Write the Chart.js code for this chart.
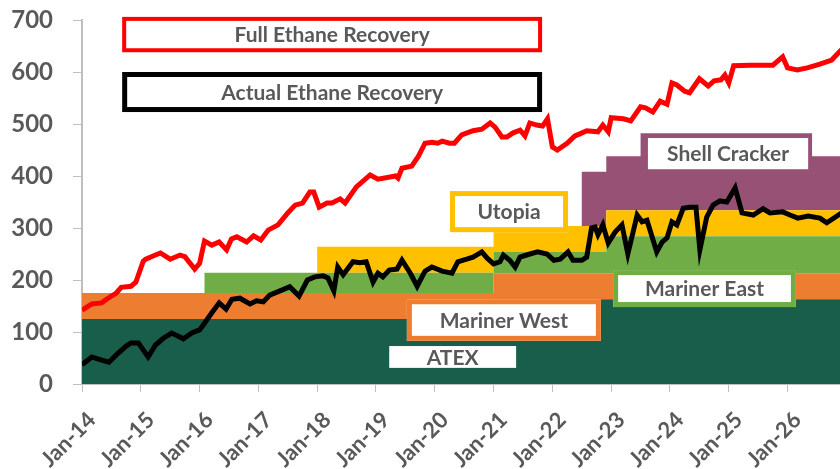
<!DOCTYPE html>
<html>
<head>
<meta charset="utf-8">
<script src="https://cdn.jsdelivr.net/npm/chart.js@4"></script>
<style>
  html, body { margin: 0; padding: 0; background: #fff; }
  #wrap { width: 840px; height: 469px; position: relative; }
</style>
</head>
<body>
<div id="wrap"><canvas id="ethaneChart"></canvas></div>
<script>
// x axis is months since Jan-14
const tickMonths = [0, 12, 24, 36, 48, 60, 72, 84, 96, 108, 120, 132, 144];
const tickLabels = ['Jan-14', 'Jan-15', 'Jan-16', 'Jan-17', 'Jan-18', 'Jan-19', 'Jan-20',
                    'Jan-21', 'Jan-22', 'Jan-23', 'Jan-24', 'Jan-25', 'Jan-26'];

// Full Ethane Recovery (red)
const fullMonths = [0, 2, 4, 5, 7, 8, 10, 11, 12.5, 13, 15, 16, 18, 20, 21, 23, 24, 25, 26.5, 28,
  29.5, 30.5, 31.6, 33.6, 35, 36.5, 38, 40, 42, 43.5, 45, 46.5, 47.3, 48.4, 50, 51, 52.7, 53.7, 56, 58.8,
  60.4, 64, 64.5, 65.3, 67.3, 68.6, 70, 71.4, 72.6, 73.5, 75, 76, 77.5, 79.8, 81.6, 83.3, 84.3, 85.7, 86.7, 88,
  89.4, 90.4, 91.4, 92.8, 94, 95, 96, 97, 99, 100.6, 101.6, 103, 105.3, 106.3, 107.4, 108, 110.5, 112, 114, 115,
  116.5, 118, 119.4, 120.4, 121.4, 123, 124, 126, 127.8, 129, 130.4, 131.2, 132, 133, 136.3, 141, 143, 144, 146, 148,
  150.6, 153, 155];
const fullValues = [142, 154, 156, 163, 175, 186, 188, 196, 236, 240, 248, 252, 240, 248, 245, 221, 232, 275, 267, 273,
  258, 279, 283, 273, 285, 277, 296, 306, 329, 344, 348, 369, 369, 340, 348, 348, 356, 348, 379, 402,
  394, 400, 396, 415, 419, 437, 463, 465, 463, 467, 463, 463, 479, 487, 490, 502, 494, 475, 475, 483,
  488, 477, 502, 498, 496, 510, 456, 450, 463, 477, 481, 487, 485, 498, 485, 512, 510, 506, 533, 531,
  523, 544, 538, 579, 575, 563, 560, 587, 573, 583, 585, 594, 579, 612, 613, 613, 629, 608, 604, 608,
  615, 623, 643];

// Actual Ethane Recovery (black)
const actualMonths = [0, 2, 4, 5.5, 7, 9, 10, 11.5, 13.5, 15, 16.6, 18.3, 20.7, 22.4, 24, 25, 26.5, 28, 29.4, 30.6,
  32.2, 34.3, 35.6, 37, 38.3, 40.4, 42.4, 44.3, 46, 47.5, 49.2, 50.2, 51.4, 52.2, 53.3, 55.3, 56.7, 58, 59.4, 60.4,
  61.4, 62.7, 64.3, 65.3, 67, 68.4, 70, 71.4, 73.5, 75.5, 76.7, 78.5, 79.8, 81.6, 82.7, 84, 85.3, 86, 87.3, 88.4,
  89.4, 91.4, 93, 94.9, 96.3, 97.6, 99.2, 100.2, 102, 103, 104, 104.7, 105.3, 106.3, 107.4, 108.8, 110.2, 111.4, 113.3, 114.3,
  115.3, 117.3, 118.4, 119.4, 120.4, 121.4, 122.7, 124, 125.3, 126.1, 127.5, 128.8, 130.2, 131.6, 133.3, 134.7, 137, 139, 140.4, 143,
  144.5, 146.1, 148.2, 150.6, 152, 155];
const actualValues = [37, 52, 46, 42, 56, 73, 79, 79, 52, 75, 88, 98, 87, 98, 104, 117, 137, 156, 144, 163,
  165, 154, 160, 158, 171, 179, 187, 169, 200, 206, 208, 204, 179, 225, 210, 235, 233, 235, 196, 213,
  206, 219, 221, 238, 213, 188, 217, 225, 217, 213, 235, 240, 244, 254, 242, 231, 235, 248, 238, 225,
  244, 250, 254, 250, 238, 240, 254, 238, 238, 244, 300, 302, 287, 306, 271, 292, 306, 250, 325, 312,
  315, 254, 273, 281, 312, 306, 338, 340, 340, 258, 321, 344, 352, 350, 377, 329, 325, 337, 329, 331,
  325, 319, 323, 319, 310, 329];

// pipeline / cracker capacity, step changes at these months
const bandStarts = [0, 25, 48, 84, 102, 107, 114, 149];
const bandEnd = 155;
const atex = [125, 125, 125, 163, 163, 163, 163, 163];
const marinerWest = [50, 50, 50, 50, 50, 50, 50, 50];
const marinerEast = [0, 39, 39, 41, 41, 71, 71, 71];
const utopia = [0, 0, 50, 50, 50, 50, 50, 50];
const shellCracker = [0, 0, 0, 0, 104, 104, 148, 104];

const bandLayers = [atex, marinerWest, marinerEast, utopia, shellCracker];
const bandColors = ['#185e4a', '#ed7d31', '#70ad47', '#ffc000', '#975174'];

const pts = (xs, ys) => xs.map((m, i) => ({ x: m, y: ys[i] }));

let running = bandStarts.map(() => 0);
const bandSets = bandLayers.map((layer, k) => {
  running = running.map((v, i) => v + layer[i]);
  const data = pts(bandStarts, running);
  data.push({ x: bandEnd, y: running[running.length - 1] });
  return {
    data: data,
    stepped: true,
    borderWidth: 0,
    pointRadius: 0,
    backgroundColor: bandColors[k],
    fill: k === 0 ? 'origin' : '-1'
  };
});

const boxLabels = [
  { text: 'Full Ethane Recovery', x0: 8.2, x1: 93.9, y0: 638, y1: 706, border: '#ff0000', lw: 4 },
  { text: 'Actual Ethane Recovery', x0: 8.2, x1: 93.9, y0: 523, y1: 600, border: '#000000', lw: 5 },
  { text: 'Shell Cracker', x0: 115.5, x1: 148.2, y0: 413, y1: 473, border: null, lw: 0 },
  { text: 'Utopia', x0: 75.1, x1: 99.2, y0: 292, y1: 371, border: '#ffc000', lw: 5 },
  { text: 'Mariner East', x0: 108.4, x1: 145.7, y0: 148, y1: 219, border: '#70ad47', lw: 5 },
  { text: 'Mariner West', x0: 66.3, x1: 105.9, y0: 83, y1: 163, border: '#ed7d31', lw: 5 },
  { text: 'ATEX', x0: 62.7, x1: 88.6, y0: 31, y1: 73, border: null, lw: 0 }
];

const labelBoxes = {
  id: 'labelBoxes',
  afterDatasetsDraw(chart) {
    const ctx = chart.ctx;
    const xs = chart.scales.x, ys = chart.scales.y;
    ctx.save();
    boxLabels.forEach(b => {
      const l = xs.getPixelForValue(b.x0), r = xs.getPixelForValue(b.x1);
      const t = ys.getPixelForValue(b.y1), btm = ys.getPixelForValue(b.y0);
      ctx.fillStyle = '#ffffff';
      ctx.fillRect(l, t, r - l, btm - t);
      if (b.lw) {
        ctx.lineWidth = b.lw;
        ctx.strokeStyle = b.border;
        ctx.strokeRect(l + b.lw / 2, t + b.lw / 2, r - l - b.lw, btm - t - b.lw);
      }
      ctx.fillStyle = '#595959';
      ctx.font = 'bold 21px Lato';
      ctx.textAlign = 'center';
      ctx.textBaseline = 'middle';
      ctx.fillText(b.text, (l + r) / 2, (t + btm) / 2 + 1);
    });
    ctx.restore();
  }
};

const canvasElement = document.getElementById('ethaneChart');

const chartCfg = {
  type: 'line',
  data: {
    datasets: [
      { data: pts(fullMonths, fullValues), borderColor: '#ff0000', borderWidth: 5, pointRadius: 0, fill: false, tension: 0 },
      { data: pts(actualMonths, actualValues), borderColor: '#000000', borderWidth: 5, pointRadius: 0, fill: false, tension: 0 },
      ...bandSets
    ]
  },
  options: {
    responsive: true,
    maintainAspectRatio: false,
    animation: false,
    layout: { padding: { top: 0, right: 0, left: 0, bottom: 0 } },
    plugins: { legend: { display: false }, tooltip: { enabled: false } },
    scales: {
      x: {
        type: 'linear',
        min: 0,
        max: 154.7,
        afterBuildTicks: (scale) => { scale.ticks = tickMonths.map(v => ({ value: v })); },
        afterFit: (scale) => { scale.height = 85; },
        grid: { drawOnChartArea: false, color: '#bfbfbf', tickLength: 8 },
        border: { color: '#bfbfbf', width: 2 },
        ticks: {
          maxRotation: 45,
          minRotation: 45,
          autoSkip: false,
          padding: 15,
          labelOffset: 10,
          color: '#595959',
          font: { family: 'Lato', size: 22, weight: 'bold' },
          callback: (v) => tickLabels[tickMonths.indexOf(v)]
        }
      },
      y: {
        min: 0,
        max: 700,
        afterFit: (scale) => {
          scale.width = 82;
          scale.paddingTop = 20;
          scale.paddingBottom = 12;
        },
        grid: { drawOnChartArea: false, color: '#bfbfbf', tickLength: 9 },
        border: { color: '#bfbfbf', width: 2 },
        ticks: {
          stepSize: 100,
          padding: 20,
          color: '#595959',
          font: { family: 'Lato', size: 24, weight: 'bold' }
        }
      }
    }
  },
  plugins: [labelBoxes]
};

let chart = new Chart(canvasElement, chartCfg);
</script>
</body>
</html>
